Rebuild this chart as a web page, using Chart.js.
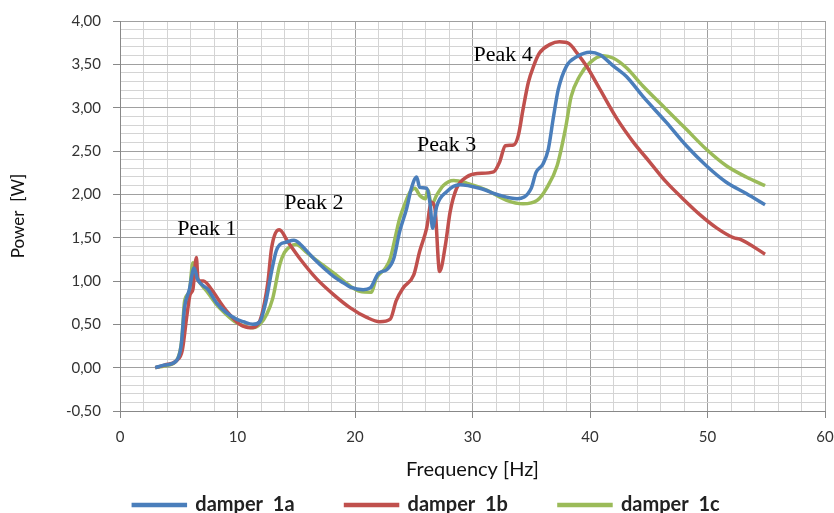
<!DOCTYPE html>
<html>
<head>
<meta charset="utf-8">
<script src="https://cdn.jsdelivr.net/npm/chart.js@4.4.0/dist/chart.umd.min.js"></script>
<style>
  html, body { margin: 0; padding: 0; background: #fff; overflow: hidden; }
  #wrap { width: 834px; height: 526px; }
</style>
</head>
<body>
<div id="wrap"><canvas id="powerChart" width="834" height="526"></canvas></div>
<script>
// damper 1a
const freq1a = [3.0, 3.8, 4.8, 5.2, 5.5, 5.9, 6.3, 6.6, 7.5, 8.2, 9.0, 9.9, 10.5, 11.3, 11.9, 12.4, 12.9, 13.3, 13.6, 14.2, 14.8, 15.3, 16.0, 16.7, 17.5, 18.2, 19.0, 19.6, 20.7, 21.3, 22.0, 22.7, 23.3, 23.8, 24.4, 24.8, 25.25, 25.5, 26.1, 26.4, 26.6, 26.95, 27.8, 28.9, 30.6, 32.3, 33.8, 35.0, 35.4, 36.0, 36.45, 36.9, 37.3, 38.0, 38.9, 40.0, 40.85, 42.0, 43.1, 44.5, 46.5, 48.2, 49.9, 51.6, 53.3, 54.9];
const power1a = [0.0, 0.03, 0.08, 0.25, 0.7, 0.9, 1.15, 1.02, 0.9, 0.75, 0.64, 0.56, 0.53, 0.5, 0.53, 0.75, 1.11, 1.35, 1.42, 1.45, 1.47, 1.43, 1.33, 1.23, 1.13, 1.05, 0.98, 0.93, 0.9, 0.92, 1.09, 1.13, 1.26, 1.57, 1.84, 2.07, 2.2, 2.08, 2.07, 1.88, 1.61, 1.86, 2.03, 2.11, 2.07, 1.99, 1.95, 2.07, 2.25, 2.35, 2.52, 2.9, 3.21, 3.48, 3.59, 3.64, 3.61, 3.48, 3.36, 3.13, 2.83, 2.56, 2.33, 2.14, 2.01, 1.88];

// damper 1b
const freq1b = [3.0, 3.8, 4.8, 5.3, 5.7, 5.96, 6.2, 6.5, 6.65, 7.1, 7.8, 8.4, 9.1, 10.2, 11.1, 11.9, 12.3, 12.6, 12.9, 13.56, 14.3, 15.3, 16.7, 18.2, 19.6, 21.0, 22.1, 23.0, 23.5, 24.1, 25.0, 25.5, 26.1, 26.5, 26.8, 27.2, 27.7, 28.1, 28.65, 29.5, 30.4, 31.8, 32.3, 32.8, 33.5, 33.9, 34.3, 34.75, 35.2, 35.7, 36.6, 37.4, 38.2, 38.9, 39.7, 40.85, 42.3, 43.7, 45.1, 46.5, 47.9, 49.4, 50.8, 52.2, 52.8, 54.9];
const power1b = [0.0, 0.03, 0.08, 0.2, 0.61, 0.84, 0.9, 1.27, 1.0, 1.0, 0.9, 0.78, 0.65, 0.5, 0.46, 0.54, 0.75, 1.0, 1.38, 1.59, 1.45, 1.26, 1.03, 0.84, 0.69, 0.58, 0.53, 0.56, 0.77, 0.92, 1.07, 1.34, 1.61, 1.91, 1.84, 1.11, 1.42, 1.8, 2.07, 2.2, 2.24, 2.26, 2.37, 2.56, 2.57, 2.68, 2.98, 3.29, 3.48, 3.63, 3.73, 3.76, 3.74, 3.63, 3.48, 3.21, 2.87, 2.6, 2.37, 2.14, 1.95, 1.76, 1.61, 1.5, 1.48, 1.31];

// damper 1c
const freq1c = [3.0, 3.8, 4.8, 5.25, 5.5, 5.9, 6.2, 6.6, 7.4, 8.2, 9.0, 9.9, 11.3, 11.9, 12.5, 13.0, 13.6, 14.0, 14.5, 15.0, 15.8, 16.7, 18.2, 19.6, 20.4, 21.4, 21.8, 22.6, 23.0, 23.5, 23.8, 24.3, 24.7, 25.1, 25.5, 26.0, 26.2, 26.5, 26.95, 27.5, 28.4, 29.5, 31.2, 32.9, 34.3, 35.5, 36.3, 37.2, 37.9, 38.4, 39.1, 40.0, 41.1, 42.0, 43.1, 44.5, 46.5, 48.2, 49.9, 51.6, 53.3, 54.9];
const power1c = [0.0, 0.02, 0.08, 0.31, 0.77, 0.88, 1.21, 1.03, 0.88, 0.73, 0.62, 0.52, 0.46, 0.5, 0.62, 0.8, 1.19, 1.33, 1.4, 1.42, 1.34, 1.24, 1.09, 0.94, 0.88, 0.87, 1.03, 1.15, 1.26, 1.55, 1.72, 1.91, 2.03, 2.07, 1.99, 1.95, 2.05, 1.88, 1.99, 2.1, 2.16, 2.13, 2.05, 1.93, 1.89, 1.93, 2.07, 2.33, 2.75, 3.13, 3.36, 3.52, 3.6, 3.57, 3.46, 3.25, 2.98, 2.75, 2.52, 2.33, 2.2, 2.1];

// peak captions, placed in data units
const peakLabels = ['Peak 1', 'Peak 2', 'Peak 3', 'Peak 4'];
const peakFreq = [7.4, 16.5, 27.8, 32.6];
const peakPower = [1.60, 1.90, 2.57, 3.61];

function toPoints(xs, ys) {
    return xs.map((x, i) => ({ x: x, y: ys[i] }));
}

function isMajorY(v) {
    return Math.abs(v * 2 - Math.round(v * 2)) < 1e-6;
}

function isMajorX(v) {
    return Math.abs(v / 10 - Math.round(v / 10)) < 1e-6;
}

// draw the "Peak n" captions
const peakTextPlugin = {
    id: 'peakText',
    afterDatasetsDraw(chart) {
        const ctx = chart.ctx;
        const xs = chart.scales.x;
        const ys = chart.scales.y;
        ctx.save();
        ctx.font = '22px "Liberation Serif", "Times New Roman", serif';
        ctx.fillStyle = '#000';
        ctx.textAlign = 'center';
        ctx.textBaseline = 'middle';
        peakLabels.forEach((txt, i) => {
            ctx.fillText(txt, xs.getPixelForValue(peakFreq[i]), ys.getPixelForValue(peakPower[i]));
        });
        ctx.restore();
    }
};

// legend item padding is also used vertically, so grow the legend box
// upwards (its top padding is empty) and nudge it right after layout
const LEGEND_UP = 44;
const LEGEND_RIGHT = 14;
const legendShiftPlugin = {
    id: 'legendShift',
    afterLayout(chart) {
        const lg = chart.legend;
        lg.top -= LEGEND_UP;
        lg.height += LEGEND_UP;
        lg.left += LEGEND_RIGHT;
        lg.right += LEGEND_RIGHT;
    }
};

const baseFont = 'Lato, "Noto Sans", sans-serif';

const ctx = document.getElementById('powerChart').getContext('2d');
const chart = new Chart(ctx, {
    type: 'line',
    data: {
        datasets: [{
            label: 'damper  1a',
            data: toPoints(freq1a, power1a),
            borderColor: '#4a7ebb',
            backgroundColor: '#4a7ebb',
            borderWidth: 3.5,
            pointRadius: 0,
            cubicInterpolationMode: 'monotone'
        }, {
            label: 'damper  1b',
            data: toPoints(freq1b, power1b),
            borderColor: '#c0504d',
            backgroundColor: '#c0504d',
            borderWidth: 3.5,
            pointRadius: 0,
            cubicInterpolationMode: 'monotone'
        }, {
            label: 'damper  1c',
            data: toPoints(freq1c, power1c),
            borderColor: '#9bbb59',
            backgroundColor: '#9bbb59',
            borderWidth: 3.5,
            pointRadius: 0,
            cubicInterpolationMode: 'monotone'
        }]
    },
    options: {
        responsive: false,
        animation: false,
        layout: {
            padding: { top: 17, right: 9, left: 0, bottom: 0 }
        },
        plugins: {
            tooltip: { enabled: false },
            legend: {
                position: 'bottom',
                maxHeight: 38,
                labels: {
                    boxWidth: 52,
                    boxHeight: 1,
                    padding: 51,
                    color: '#222',
                    font: { family: baseFont, size: 20, weight: 'bold' }
                }
            }
        },
        scales: {
            x: {
                type: 'linear',
                min: 0,
                max: 60,
                ticks: {
                    stepSize: 2,
                    autoSkip: false,
                    maxRotation: 0,
                    padding: 10,
                    color: '#333',
                    font: { family: baseFont, size: 15 },
                    callback: (v) => isMajorX(v) ? String(v) : ''
                },
                grid: {
                    color: (c) => isMajorX(c.tick.value) ? '#a0a0a0' : '#d4d4d4',
                    tickColor: (c) => isMajorX(c.tick.value) ? '#888' : 'rgba(0,0,0,0)',
                    tickLength: 7
                },
                border: { color: '#888' },
                title: {
                    display: true,
                    text: 'Frequency [Hz]',
                    color: '#111',
                    font: { family: baseFont, size: 20 },
                    padding: { top: 4, bottom: 6 }
                },
                afterFit: (s) => {
                    s.height = 77;
                    // the "60" label may hang past the plot edge, as in the original
                    s.paddingRight = 0;
                }
            },
            y: {
                min: -0.5,
                max: 4,
                ticks: {
                    stepSize: 0.1,
                    autoSkip: false,
                    padding: 12,
                    color: '#333',
                    font: { family: baseFont, size: 15 },
                    callback: (v) => isMajorY(v) ? v.toFixed(2).replace('.', ',') : ''
                },
                grid: {
                    color: (c) => isMajorY(c.tick.value) ? '#a0a0a0' : '#d4d4d4',
                    tickColor: (c) => isMajorY(c.tick.value) ? '#888' : 'rgba(0,0,0,0)',
                    tickLength: 7
                },
                border: { color: '#888' },
                title: {
                    display: true,
                    text: 'Power  [W]',
                    color: '#111',
                    font: { family: baseFont, size: 17 },
                    padding: { top: 8, bottom: 4 }
                },
                afterFit: (s) => { s.width = 120; }
            }
        }
    },
    plugins: [peakTextPlugin, legendShiftPlugin]
});
</script>
</body>
</html>
